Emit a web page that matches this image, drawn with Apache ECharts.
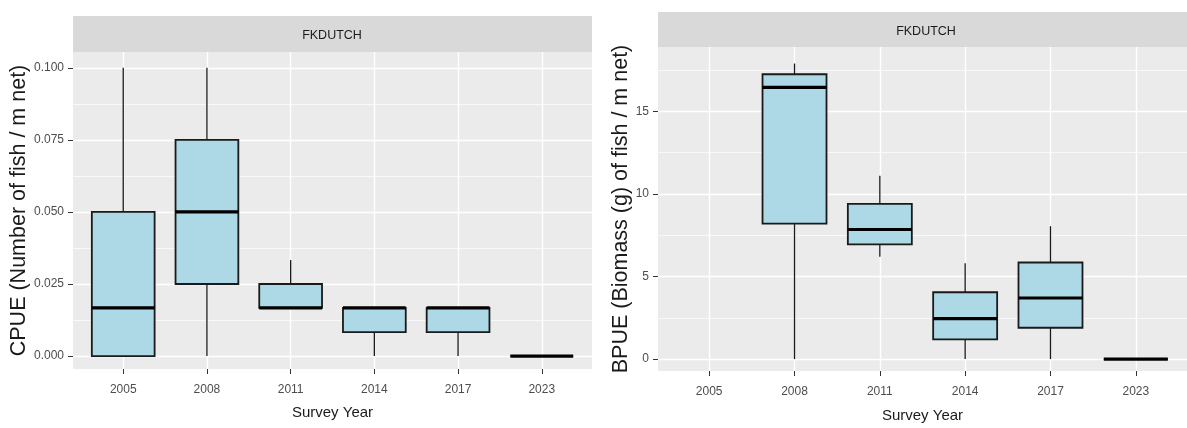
<!DOCTYPE html>
<html>
<head>
<meta charset="utf-8">
<script src="https://cdn.jsdelivr.net/npm/echarts@6/dist/echarts.min.js"></script>
<style>
html, body { margin: 0; padding: 0; background: #fff; }
#chart { width: 1187px; height: 428px; }
</style>
</head>
<body>
<div id="chart"></div>
<script>
// categories
var years = ['2005', '2008', '2011', '2014', '2017', '2023'];
var xPos = [1, 2, 3, 4, 5, 6];

// CPUE boxes (left panel)
var cpueMin = [0, 0, 0.0167, 0, 0, 0];
var cpueQ1 = [0, 0.025, 0.0167, 0.0083, 0.0083, 0];
var cpueMed = [0.0167, 0.05, 0.0167, 0.0167, 0.0167, 0];
var cpueQ3 = [0.05, 0.075, 0.025, 0.0167, 0.0167, 0];
var cpueMax = [0.1, 0.1, 0.0333, 0.0167, 0.0167, 0];

// BPUE boxes (right panel), no data for 2005
var bpueMin = [null, 0, 6.2, 0, 0, 0];
var bpueQ1 = [null, 8.2, 6.95, 1.2, 1.9, 0];
var bpueMed = [null, 16.45, 7.85, 2.45, 3.7, 0];
var bpueQ3 = [null, 17.25, 9.4, 4.05, 5.85, 0];
var bpueMax = [null, 17.9, 11.1, 5.8, 8.05, 0];

// tick labels
var cpueTicks = [0, 0.025, 0.05, 0.075, 0.1];
var cpueMinor = [0.0125, 0.0375, 0.0625, 0.0875];
var bpueTicks = [0, 5, 10, 15];
var bpueMinor = [2.5, 7.5, 12.5, 17.5];

var tickFont = "'Liberation Sans', Arial, sans-serif";

function boxRows(mn, q1, md, q3, mx) {
    var rows = [];
    for (var i = 0; i < years.length; i++) {
        if (md[i] == null) continue;
        rows.push([xPos[i], mn[i], q1[i], md[i], q3[i], mx[i]]);
    }
    return rows;
}

function renderBox(params, api) {
    var x = api.value(0);
    var lo = api.coord([x, api.value(1)]);
    var q1 = api.coord([x, api.value(2)]);
    var md = api.coord([x, api.value(3)]);
    var q3 = api.coord([x, api.value(4)]);
    var hi = api.coord([x, api.value(5)]);
    var half = api.size([0.75, 0])[0] / 2;
    var whisker = { stroke: '#1a1a1a', lineWidth: 1.3 };
    return {
        type: 'group',
        children: [
            { type: 'line', shape: { x1: hi[0], y1: hi[1], x2: q3[0], y2: q3[1] }, style: whisker },
            { type: 'line', shape: { x1: q1[0], y1: q1[1], x2: lo[0], y2: lo[1] }, style: whisker },
            { type: 'rect', shape: { x: q3[0] - half, y: q3[1], width: half * 2, height: q1[1] - q3[1] },
              style: { fill: '#ADD8E6', stroke: '#1a1a1a', lineWidth: 1.8 } },
            { type: 'line', shape: { x1: md[0] - half, y1: md[1], x2: md[0] + half, y2: md[1] },
              style: { stroke: '#000000', lineWidth: 3.2 } }
        ]
    };
}

function xAxisFor(grid, labelGap, nameGap) {
    return {
        type: 'value', gridIndex: grid, min: 0.4, max: 6.6,
        name: 'Survey Year', nameLocation: 'middle', nameGap: nameGap,
        nameTextStyle: { fontSize: 15, color: '#1a1a1a', fontFamily: tickFont },
        axisLine: { show: false, onZero: false },
        axisTick: { show: true, length: 5, lineStyle: { color: '#333333', width: 1 }, customValues: xPos },
        axisLabel: { color: '#4d4d4d', fontSize: 12, margin: labelGap, fontFamily: tickFont, customValues: xPos,
            formatter: function (v) { return years[Math.round(v) - 1]; } },
        splitLine: { show: true, lineStyle: { color: '#ffffff', width: 1.4 } }
    };
}

function yAxisFor(grid, min, max, ticks, fmt, name, gap) {
    return {
        type: 'value', gridIndex: grid, min: min, max: max,
        name: name, nameLocation: 'middle', nameGap: gap,
        nameTextStyle: { fontSize: 21.5, color: '#1a1a1a', fontFamily: tickFont },
        axisLine: { show: false, onZero: false },
        axisTick: { show: true, length: 5, lineStyle: { color: '#333333', width: 1 }, customValues: ticks },
        axisLabel: { color: '#4d4d4d', fontSize: 12, margin: 9, fontFamily: tickFont, customValues: ticks,
            formatter: fmt },
        splitLine: { show: true, lineStyle: { color: '#ffffff', width: 1.4 } }
    };
}

function minorAxisFor(grid, min, max, minor) {
    return {
        type: 'value', gridIndex: grid, min: min, max: max,
        axisLine: { show: false, onZero: false },
        axisTick: { show: false, customValues: minor },
        axisLabel: { show: false, customValues: minor },
        splitLine: { show: true, lineStyle: { color: '#ffffff', width: 0.7 } }
    };
}

var chart = echarts.init(document.getElementById('chart'));

var option = {
    backgroundColor: '#ffffff',
    animation: false,
    grid: [
        { left: 73, top: 52, width: 519, height: 317, show: true, backgroundColor: '#ebebeb', borderWidth: 0 },
        { left: 658, top: 47, width: 537, height: 326, show: true, backgroundColor: '#ebebeb', borderWidth: 0 }
    ],
    xAxis: [xAxisFor(0, 15, 36), xAxisFor(1, 15, 37)],
    yAxis: [
        yAxisFor(0, -0.0045, 0.1055, cpueTicks, function (v) { return v.toFixed(3); },
            'CPUE (Number of fish / m net)', 43),
        yAxisFor(1, -0.72, 18.9, bpueTicks, function (v) { return String(v); },
            'BPUE (Biomass (g) of fish / m net)', 21),
        minorAxisFor(0, -0.0045, 0.1055, cpueMinor),
        minorAxisFor(1, -0.72, 18.9, bpueMinor)
    ],
    graphic: [
        { type: 'rect', left: 73, top: 16, shape: { width: 519, height: 36 }, style: { fill: '#d9d9d9' } },
        { type: 'text', x: 332, y: 36, style: { text: 'FKDUTCH', fill: '#1a1a1a', fontSize: 12.5,
            fontFamily: tickFont, align: 'center', verticalAlign: 'middle' } },
        { type: 'rect', left: 658, top: 12, shape: { width: 540, height: 35 }, style: { fill: '#d9d9d9' } },
        { type: 'text', x: 926, y: 32, style: { text: 'FKDUTCH', fill: '#1a1a1a', fontSize: 12.5,
            fontFamily: tickFont, align: 'center', verticalAlign: 'middle' } }
    ],
    series: [
        {
            type: 'custom', name: 'CPUE', xAxisIndex: 0, yAxisIndex: 0,
            renderItem: renderBox,
            encode: { x: 0, y: [1, 2, 3, 4, 5] },
            data: boxRows(cpueMin, cpueQ1, cpueMed, cpueQ3, cpueMax),
            z: 5
        },
        {
            type: 'custom', name: 'BPUE', xAxisIndex: 1, yAxisIndex: 1,
            renderItem: renderBox,
            encode: { x: 0, y: [1, 2, 3, 4, 5] },
            data: boxRows(bpueMin, bpueQ1, bpueMed, bpueQ3, bpueMax),
            z: 5
        }
    ]
};

chart.setOption(option);
</script>
</body>
</html>
